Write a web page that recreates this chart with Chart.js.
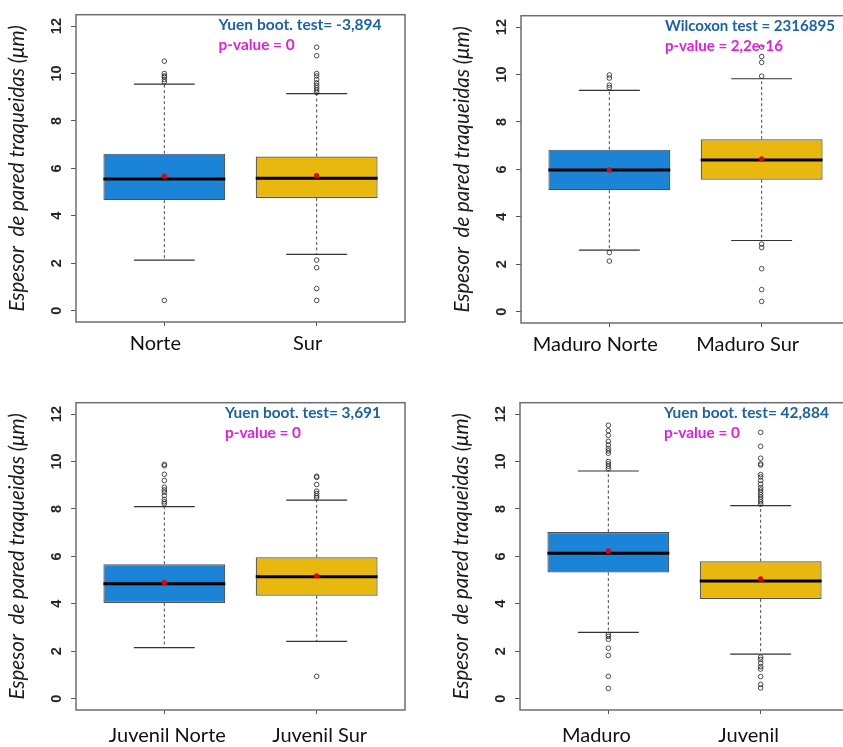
<!DOCTYPE html>
<html><head><meta charset="utf-8">
<script src="https://cdn.jsdelivr.net/npm/chart.js@4.4.1/dist/chart.umd.min.js"></script>
<style>
html,body{margin:0;padding:0;background:#fff;width:843px;height:747px;overflow:hidden;position:relative}
canvas{position:absolute}
</style></head><body>
<canvas id="c1" width="420" height="370" style="left:0px;top:0px"></canvas>
<canvas id="c2" width="420" height="370" style="left:445px;top:1px"></canvas>
<canvas id="c3" width="420" height="370" style="left:0px;top:388px"></canvas>
<canvas id="c4" width="420" height="370" style="left:444px;top:388px"></canvas>
<script>
// ---- shared ----
const yTickLabels = [0, 2, 4, 6, 8, 10, 12];
const yTitle = 'Espesor  de pared traqueidas (\u03BCm)';

// ---- panel 1 ----
const p1Labels = ['Norte', 'Sur'];
const p1Q1 = [4.66, 4.75];
const p1Median = [5.55, 5.58];
const p1Q3 = [6.62, 6.50];
const p1WhiskLo = [2.13, 2.37];
const p1WhiskHi = [9.55, 9.15];
const p1Mean = [5.67, 5.69];
const p1Outliers = [
  [10.52, 10.0, 9.9, 9.85, 9.75, 9.65, 0.43],
  [11.11, 10.75, 10.0, 9.9, 9.75, 9.6, 9.5, 9.4, 9.3, 9.2, 2.13, 1.81, 0.93, 0.43]
];
const p1Stat = 'Yuen boot. test= -3,894';
const p1P = 'p-value = 0';

// ---- panel 2 ----
const p2Labels = ['Maduro Norte', 'Maduro Sur'];
const p2Q1 = [5.12, 5.56];
const p2Median = [5.97, 6.39];
const p2Q3 = [6.83, 7.27];
const p2WhiskLo = [2.59, 3.00];
const p2WhiskHi = [9.33, 9.82];
const p2Mean = [5.98, 6.44];
const p2Outliers = [
  [9.98, 9.85, 9.55, 9.45, 2.49, 2.13],
  [11.16, 10.76, 10.51, 9.93, 2.85, 2.70, 1.81, 0.93, 0.43]
];
const p2Stat = 'Wilcoxon test = 2316895';
const p2P = 'p-value = 2,2e-16';

// ---- panel 3 ----
const p3Labels = ['Juvenil Norte', 'Juvenil Sur'];
const p3Q1 = [4.03, 4.34];
const p3Median = [4.84, 5.14];
const p3Q3 = [5.67, 5.96];
const p3WhiskLo = [2.15, 2.41];
const p3WhiskHi = [8.10, 8.37];
const p3Mean = [4.90, 5.18];
const p3Outliers = [
  [9.88, 9.82, 9.46, 9.2, 8.92, 8.8, 8.7, 8.56, 8.4, 8.3, 8.22],
  [9.38, 9.33, 9.03, 8.75, 8.65, 8.55, 8.47, 0.94]
];
const p3Stat = 'Yuen boot. test= 3,691';
const p3P = 'p-value = 0';

// ---- panel 4 ----
const p4Labels = ['Maduro', 'Juvenil'];
const p4Q1 = [5.32, 4.20];
const p4Median = [6.13, 4.96];
const p4Q3 = [7.03, 5.79];
const p4WhiskLo = [2.79, 1.88];
const p4WhiskHi = [9.60, 8.14];
const p4Mean = [6.23, 5.05];
const p4Outliers = [
  [11.53, 11.3, 11.1, 10.85, 10.7, 10.55, 10.45, 10.35, 10.0, 9.9, 9.8, 9.7, 2.7, 2.62, 2.5, 2.13, 1.82, 0.94, 0.43],
  [11.23, 10.64, 10.14, 9.9, 9.85, 9.45, 9.35, 9.2, 9.05, 8.9, 8.8, 8.7, 8.6, 8.5, 8.4, 8.3, 8.2, 1.75, 1.65, 1.5, 1.35, 1.25, 0.93, 0.6, 0.45]
];
const p4Stat = 'Yuen boot. test= 42,884';
const p4P = 'p-value = 0';

const boxColors = ['#1b84d6', '#e8b80f'];

function fitText(ctx, text, x, y, width) {
  const natural = ctx.measureText(text).width;
  ctx.save();
  ctx.translate(x, y);
  ctx.scale(width / natural, 1);
  ctx.fillText(text, 0, 0);
  ctx.restore();
}

function makePanel(id, labels, q1, med, q3, wlo, whi, mean, outl, stat, pval, look) {
  const plugin = {
    id: 'box_' + id,
    afterDatasetDraw(chart, args) {
      if (args.meta.type !== 'bar') return;
      const ctx = chart.ctx, y = chart.scales.y;
      args.meta.data.forEach((bar, i) => {
        const cx = bar.x, half = bar.width / 2, st = half / 2;
        const yq1 = y.getPixelForValue(q1[i]), yq3 = y.getPixelForValue(q3[i]);
        const ylo = y.getPixelForValue(wlo[i]), yhi = y.getPixelForValue(whi[i]);
        const ym = y.getPixelForValue(med[i]);
        ctx.save();
        ctx.strokeStyle = '#4a4a4a'; ctx.lineWidth = 1;
        ctx.setLineDash([3, 2.5]);
        ctx.beginPath();
        ctx.moveTo(cx, yq3); ctx.lineTo(cx, yhi);
        ctx.moveTo(cx, yq1); ctx.lineTo(cx, ylo);
        ctx.stroke();
        ctx.setLineDash([]);
        ctx.strokeStyle = '#333'; ctx.lineWidth = 1.2;
        ctx.beginPath();
        ctx.moveTo(cx - st, yhi); ctx.lineTo(cx + st, yhi);
        ctx.moveTo(cx - st, ylo); ctx.lineTo(cx + st, ylo);
        ctx.stroke();
        ctx.strokeStyle = '#000'; ctx.lineWidth = 3;
        ctx.beginPath();
        ctx.moveTo(cx - half, ym); ctx.lineTo(cx + half, ym);
        ctx.stroke();
        ctx.restore();
      });
    },
    afterDraw(chart) {
      const ctx = chart.ctx, a = chart.chartArea, x = chart.scales.x, y = chart.scales.y;
      ctx.save();
      ctx.strokeStyle = '#6e6e6e'; ctx.lineWidth = 1.5;
      ctx.strokeRect(a.left, a.top, a.right - a.left, a.bottom - a.top);
      ctx.textBaseline = 'middle'; ctx.textAlign = 'left';
      const tx = x.getPixelForValue(look.anchor[0]);
      ctx.font = 'bold 15.5px Lato';
      ctx.fillStyle = '#1c62a6';
      fitText(ctx, stat, tx, y.getPixelForValue(look.anchor[1]), look.textW[0]);
      ctx.fillStyle = '#e01fdc';
      fitText(ctx, pval, tx, y.getPixelForValue(look.anchor[2]), look.textW[1]);
      ctx.restore();
    }
  };
  const catIdx = labels.map((_, i) => i + 1);
  new Chart(document.getElementById(id), {
    type: 'bar',
    data: {
      datasets: [
        {
          type: 'scatter', order: 1,
          data: catIdx.map((c, i) => ({x: c, y: mean[i]})),
          pointRadius: 2.6, pointBackgroundColor: '#e8000b', pointBorderWidth: 0
        },
        {
          type: 'scatter', order: 2,
          data: outl.flatMap((arr, i) => arr.map(v => ({x: catIdx[i], y: v}))),
          pointRadius: 2.3, pointBackgroundColor: 'rgba(0,0,0,0)', pointBorderColor: '#222', pointBorderWidth: 0.8
        },
        {
          type: 'bar', order: 3,
          data: catIdx.map((c, i) => ({x: c, y: [q1[i], q3[i]]})),
          backgroundColor: boxColors, borderColor: '#505050', borderWidth: 1.2,
          borderSkipped: false, barPercentage: 0.8, categoryPercentage: 1
        }
      ]
    },
    options: {
      responsive: false, animation: false, devicePixelRatio: 1,
      layout: {padding: {left: 0, top: 10, right: 15, bottom: 0}},
      plugins: {legend: {display: false}, tooltip: {enabled: false}},
      scales: {
        x: {
          type: 'linear', min: 0.42, max: 2.58, offset: false,
          afterBuildTicks: s => { s.ticks = catIdx.map(v => ({value: v})); },
          afterFit: s => { s.height = 48; },
          grid: {drawOnChartArea: false, drawTicks: true, tickLength: 4, color: '#555', offset: false},
          border: {display: false},
          ticks: {callback: (v, i) => labels[i], font: {family: 'Lato', size: 20}, color: '#111',
                  padding: look.xPad, labelOffset: look.xShift, maxRotation: 0, autoSkip: false}
        },
        y: {
          type: 'linear', min: -0.48, max: 12.48,
          afterBuildTicks: s => { s.ticks = yTickLabels.map(v => ({value: v})); },
          afterFit: s => { s.width = 76; },
          grid: {drawOnChartArea: false, drawTicks: true, tickLength: 5, color: '#555'},
          border: {display: false},
          ticks: {callback: v => String(v), font: {family: 'Liberation Sans', size: 14.5, weight: 'bold'}, color: '#262626',
                  minRotation: 90, maxRotation: 90, crossAlign: 'center', padding: 6, autoSkip: false},
          title: {display: true, text: yTitle, font: {family: 'Lato', style: 'italic', size: 20.5}, color: '#1a1a1a', padding: {top: 5, bottom: 0}}
        }
      }
    },
    plugins: [plugin]
  });
}

makePanel('c1', p1Labels, p1Q1, p1Median, p1Q3, p1WhiskLo, p1WhiskHi, p1Mean, p1Outliers, p1Stat, p1P,
  {anchor: [1.356, 12.03, 11.2], textW: [163, 76], xShift: -9, xPad: 6});
makePanel('c2', p2Labels, p2Q1, p2Median, p2Q3, p2WhiskLo, p2WhiskHi, p2Mean, p2Outliers, p2Stat, p2P,
  {anchor: [1.365, 12.05, 11.22], textW: [170, 118], xShift: -14, xPad: 6});
makePanel('c3', p3Labels, p3Q1, p3Median, p3Q3, p3WhiskLo, p3WhiskHi, p3Mean, p3Outliers, p3Stat, p3P,
  {anchor: [1.398, 12.03, 11.2], textW: [156, 76], xShift: 3, xPad: 10});
makePanel('c4', p4Labels, p4Q1, p4Median, p4Q3, p4WhiskLo, p4WhiskHi, p4Mean, p4Outliers, p4Stat, p4P,
  {anchor: [1.365, 12.03, 11.2], textW: [165, 76], xShift: -12, xPad: 10});
</script>
</body></html>
